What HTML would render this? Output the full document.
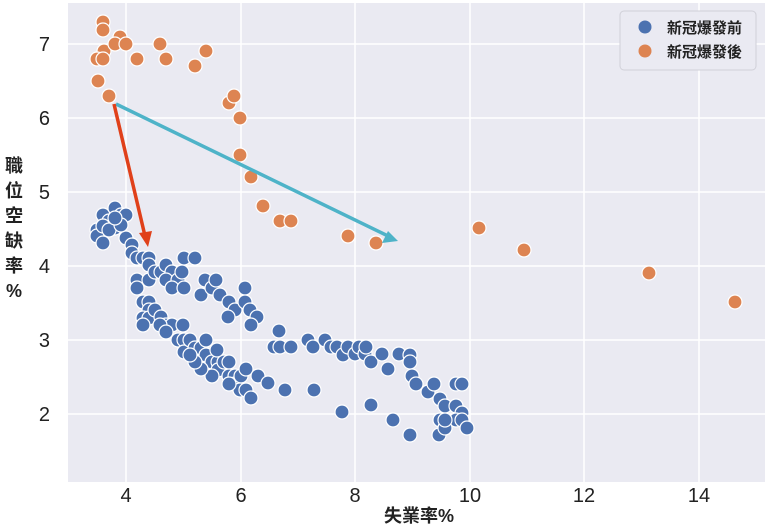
<!DOCTYPE html>
<html><head><meta charset="utf-8"><style>
html,body{margin:0;padding:0;background:#fff;}
svg{display:block;font-family:"Liberation Sans","Noto Sans CJK TC",sans-serif;}
</style></head><body>
<svg width="768" height="528" viewBox="0 0 768 528" xmlns="http://www.w3.org/2000/svg">
<rect x="68" y="3" width="697" height="479" fill="#eaeaf2"/>
<g stroke="#fff" stroke-width="1.5">
<line x1="126" y1="3" x2="126" y2="482"/><line x1="241" y1="3" x2="241" y2="482"/>
<line x1="355" y1="3" x2="355" y2="482"/><line x1="470" y1="3" x2="470" y2="482"/>
<line x1="584" y1="3" x2="584" y2="482"/><line x1="699" y1="3" x2="699" y2="482"/>
<line x1="68" y1="44" x2="765" y2="44"/><line x1="68" y1="118" x2="765" y2="118"/>
<line x1="68" y1="192" x2="765" y2="192"/><line x1="68" y1="266" x2="765" y2="266"/>
<line x1="68" y1="340" x2="765" y2="340"/><line x1="68" y1="414" x2="765" y2="414"/>
</g>
<g font-size="20" fill="#222" text-anchor="middle">
<text x="126" y="502">4</text><text x="241" y="502">6</text><text x="355" y="502">8</text>
<text x="470" y="502">10</text><text x="584" y="502">12</text><text x="699" y="502">14</text>
</g>
<g font-size="20" fill="#222" text-anchor="end">
<text x="50" y="51">7</text><text x="50" y="125">6</text><text x="50" y="199">5</text>
<text x="50" y="273">4</text><text x="50" y="347">3</text><text x="50" y="421">2</text>
</g>
<g font-size="18" fill="#222" text-anchor="middle" font-weight="bold">
<text x="14" y="172">職</text><text x="14" y="197">位</text><text x="14" y="222">空</text>
<text x="14" y="247">缺</text><text x="14" y="272">率</text><text x="14" y="297">%</text>
<text x="419" y="522">失業率%</text>
</g>
<g fill="#4c72b0" stroke="#fff" stroke-width="1.2">
<circle cx="97" cy="230" r="7"/><circle cx="97" cy="236" r="7"/><circle cx="103" cy="243" r="7"/><circle cx="103" cy="215" r="7"/><circle cx="109" cy="221" r="7"/><circle cx="115" cy="208" r="7"/><circle cx="115" cy="228" r="7"/><circle cx="121" cy="215" r="7"/><circle cx="126" cy="215" r="7"/><circle cx="126" cy="238" r="7"/><circle cx="103" cy="226" r="7"/><circle cx="109" cy="230" r="7"/><circle cx="121" cy="225" r="7"/><circle cx="115" cy="218" r="7"/>
<circle cx="132" cy="245" r="7"/><circle cx="132" cy="253" r="7"/><circle cx="137" cy="258" r="7"/><circle cx="143" cy="258" r="7"/><circle cx="149" cy="258" r="7"/><circle cx="149" cy="265" r="7"/><circle cx="137" cy="280" r="7"/><circle cx="137" cy="288" r="7"/><circle cx="149" cy="280" r="7"/><circle cx="143" cy="302" r="7"/><circle cx="149" cy="302" r="7"/><circle cx="149" cy="310" r="7"/><circle cx="143" cy="318" r="7"/><circle cx="149" cy="318" r="7"/><circle cx="143" cy="325" r="7"/><circle cx="155" cy="310" r="7"/><circle cx="161" cy="317" r="7"/><circle cx="166" cy="325" r="7"/><circle cx="172" cy="325" r="7"/><circle cx="160" cy="325" r="7"/><circle cx="166" cy="332" r="7"/><circle cx="183" cy="325" r="7"/><circle cx="178" cy="340" r="7"/><circle cx="184" cy="340" r="7"/><circle cx="184" cy="352" r="7"/><circle cx="190" cy="340" r="7"/><circle cx="195" cy="348" r="7"/><circle cx="201" cy="348" r="7"/><circle cx="206" cy="355" r="7"/><circle cx="212" cy="362" r="7"/><circle cx="218" cy="362" r="7"/><circle cx="218" cy="370" r="7"/><circle cx="224" cy="362" r="7"/><circle cx="229" cy="362" r="7"/><circle cx="229" cy="376" r="7"/><circle cx="235" cy="376" r="7"/><circle cx="235" cy="384" r="7"/><circle cx="241" cy="376" r="7"/><circle cx="246" cy="369" r="7"/><circle cx="258" cy="376" r="7"/><circle cx="240" cy="390" r="7"/><circle cx="246" cy="390" r="7"/><circle cx="251" cy="398" r="7"/><circle cx="229" cy="384" r="7"/><circle cx="212" cy="376" r="7"/><circle cx="201" cy="369" r="7"/><circle cx="195" cy="362" r="7"/><circle cx="190" cy="355" r="7"/><circle cx="217" cy="350" r="7"/><circle cx="206" cy="340" r="7"/>
<circle cx="155" cy="272" r="7"/><circle cx="161" cy="272" r="7"/><circle cx="166" cy="265" r="7"/><circle cx="172" cy="272" r="7"/><circle cx="166" cy="280" r="7"/><circle cx="178" cy="280" r="7"/><circle cx="172" cy="288" r="7"/><circle cx="184" cy="288" r="7"/><circle cx="184" cy="258" r="7"/><circle cx="195" cy="258" r="7"/><circle cx="182" cy="272" r="7"/><circle cx="205" cy="280" r="7"/><circle cx="201" cy="295" r="7"/><circle cx="212" cy="288" r="7"/><circle cx="216" cy="280" r="7"/><circle cx="220" cy="295" r="7"/><circle cx="229" cy="302" r="7"/><circle cx="235" cy="310" r="7"/><circle cx="228" cy="317" r="7"/><circle cx="245" cy="288" r="7"/><circle cx="245" cy="302" r="7"/><circle cx="250" cy="310" r="7"/><circle cx="257" cy="317" r="7"/><circle cx="251" cy="325" r="7"/><circle cx="279" cy="331" r="7"/><circle cx="274" cy="347" r="7"/><circle cx="280" cy="347" r="7"/><circle cx="291" cy="347" r="7"/><circle cx="268" cy="383" r="7"/><circle cx="285" cy="390" r="7"/><circle cx="308" cy="340" r="7"/><circle cx="313" cy="347" r="7"/><circle cx="314" cy="390" r="7"/><circle cx="325" cy="340" r="7"/><circle cx="331" cy="347" r="7"/><circle cx="337" cy="347" r="7"/><circle cx="343" cy="355" r="7"/><circle cx="348" cy="347" r="7"/><circle cx="355" cy="354" r="7"/><circle cx="359" cy="347" r="7"/><circle cx="365" cy="354" r="7"/><circle cx="366" cy="347" r="7"/><circle cx="371" cy="362" r="7"/><circle cx="382" cy="354" r="7"/><circle cx="388" cy="369" r="7"/><circle cx="399" cy="354" r="7"/><circle cx="410" cy="355" r="7"/><circle cx="410" cy="362" r="7"/><circle cx="412" cy="376" r="7"/><circle cx="416" cy="384" r="7"/><circle cx="428" cy="392" r="7"/><circle cx="434" cy="384" r="7"/><circle cx="440" cy="399" r="7"/><circle cx="445" cy="406" r="7"/><circle cx="440" cy="420" r="7"/><circle cx="445" cy="428" r="7"/><circle cx="456" cy="384" r="7"/><circle cx="462" cy="384" r="7"/><circle cx="456" cy="406" r="7"/><circle cx="462" cy="413" r="7"/><circle cx="456" cy="420" r="7"/><circle cx="462" cy="420" r="7"/><circle cx="467" cy="428" r="7"/><circle cx="342" cy="412" r="7"/><circle cx="371" cy="405" r="7"/><circle cx="393" cy="420" r="7"/><circle cx="410" cy="435" r="7"/><circle cx="439" cy="435" r="7"/><circle cx="445" cy="428" r="7"/><circle cx="445" cy="420" r="7"/>
</g>
<g fill="#dd8452" stroke="#fff" stroke-width="1.2">
<circle cx="103" cy="22" r="7"/><circle cx="103" cy="30" r="7"/><circle cx="104" cy="51" r="7"/><circle cx="97" cy="59" r="7"/><circle cx="103" cy="59" r="7"/><circle cx="98" cy="81" r="7"/><circle cx="109" cy="96" r="7"/><circle cx="120" cy="37" r="7"/><circle cx="115" cy="44" r="7"/><circle cx="126" cy="44" r="7"/><circle cx="137" cy="59" r="7"/><circle cx="160" cy="44" r="7"/><circle cx="166" cy="59" r="7"/><circle cx="195" cy="66" r="7"/><circle cx="206" cy="51" r="7"/><circle cx="229" cy="103" r="7"/><circle cx="234" cy="96" r="7"/><circle cx="240" cy="118" r="7"/><circle cx="240" cy="155" r="7"/><circle cx="251" cy="177" r="7"/><circle cx="263" cy="206" r="7"/><circle cx="280" cy="221" r="7"/><circle cx="291" cy="221" r="7"/><circle cx="348" cy="236" r="7"/><circle cx="376" cy="243" r="7"/><circle cx="479" cy="228" r="7"/><circle cx="524" cy="250" r="7"/><circle cx="649" cy="273" r="7"/><circle cx="735" cy="302" r="7"/>
</g>
<line x1="116" y1="104" x2="388" y2="236" stroke="#4eb3c8" stroke-width="3.5"/>
<polygon points="398,241 382,243 388,231" fill="#4eb3c8"/>
<line x1="114" y1="104" x2="145" y2="236" stroke="#e0401a" stroke-width="3.5"/>
<polygon points="148,247 139,233 152,231" fill="#e0401a"/>
<rect x="620" y="11" width="136" height="59" rx="4" fill="#eaeaf2" stroke="#d0d0d8"/>
<circle cx="645" cy="27" r="6.5" fill="#4c72b0"/><circle cx="645" cy="51" r="6.5" fill="#dd8452"/>
<g font-size="15" fill="#222" font-weight="bold"><text x="667" y="33">新冠爆發前</text><text x="667" y="57">新冠爆發後</text></g>
</svg>
</body></html>
